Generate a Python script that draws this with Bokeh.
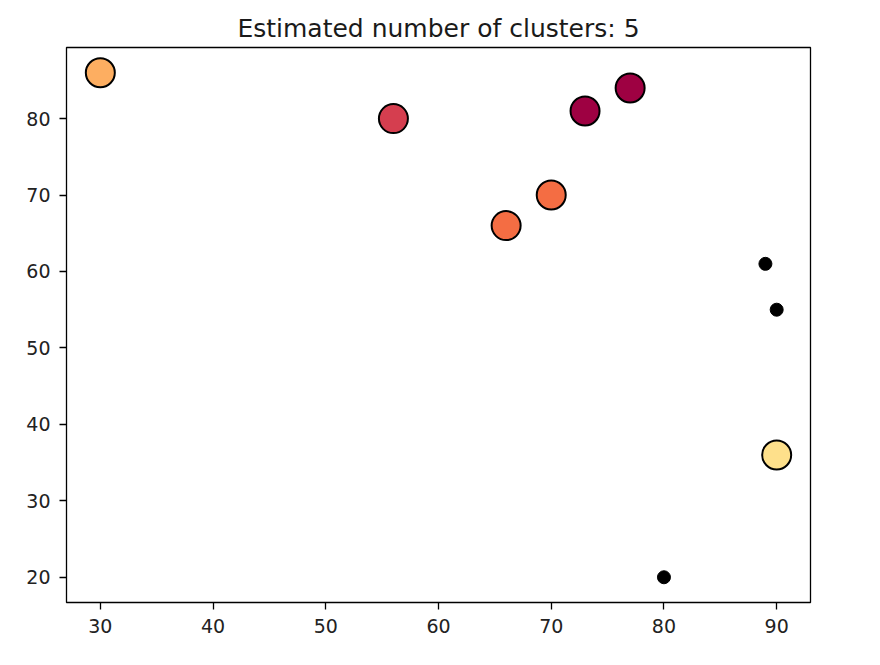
from bokeh.plotting import figure
from bokeh.models import Range1d, FixedTicker
from bokeh.embed import file_html
from bokeh.resources import INLINE

core_x = [30, 56, 73, 77, 66, 70, 90]
core_y = [86, 80, 81, 84, 66, 70, 36]
core_colors = ["#fdae61", "#d53e4f", "#9e0142", "#9e0142", "#f46d43", "#f46d43", "#fee08b"]
noise_x = [89, 90, 80]
noise_y = [61, 55, 20]
x_ticks = [30, 40, 50, 60, 70, 80, 90]
y_ticks = [20, 30, 40, 50, 60, 70, 80]
title_text = "Estimated number of clusters: 5"

p = figure(width=866, height=655, output_backend="svg", toolbar_location=None,
           x_range=Range1d(27.0, 93.0), y_range=Range1d(16.7, 89.3),
           title=title_text,
           min_border_left=66, min_border_right=56, min_border_top=47, min_border_bottom=53)

p.title.align = "center"
p.title.text_font = "DejaVu Sans"
p.title.text_font_size = "25px"
p.title.text_font_style = "normal"
p.title.text_color = "#1a1a1a"
p.title.offset = 0
p.title.standoff = 9

p.xgrid.visible = False
p.ygrid.visible = False
p.outline_line_color = "black"
p.outline_line_width = 1.3
p.outline_line_alpha = 1

for ax in (p.xaxis, p.yaxis):
    ax.axis_line_color = None
    ax.major_tick_out = 7
    ax.major_tick_in = 0
    ax.major_tick_line_width = 1.3
    ax.minor_tick_line_color = None
    ax.major_tick_line_color = "black"
    ax.major_label_text_font = "DejaVu Sans"
    ax.major_label_text_font_size = "19px"
    ax.major_label_text_color = "#222222"
    ax.major_label_standoff = 9
p.xaxis.ticker = FixedTicker(ticks=x_ticks)
p.yaxis.ticker = FixedTicker(ticks=y_ticks)

p.scatter(core_x, core_y, size=29, fill_color=core_colors, line_color="black", line_width=2)
p.scatter(noise_x, noise_y, size=13, fill_color="black", line_color="black", line_width=1)

open("out.html", "w").write(file_html(p, INLINE))
